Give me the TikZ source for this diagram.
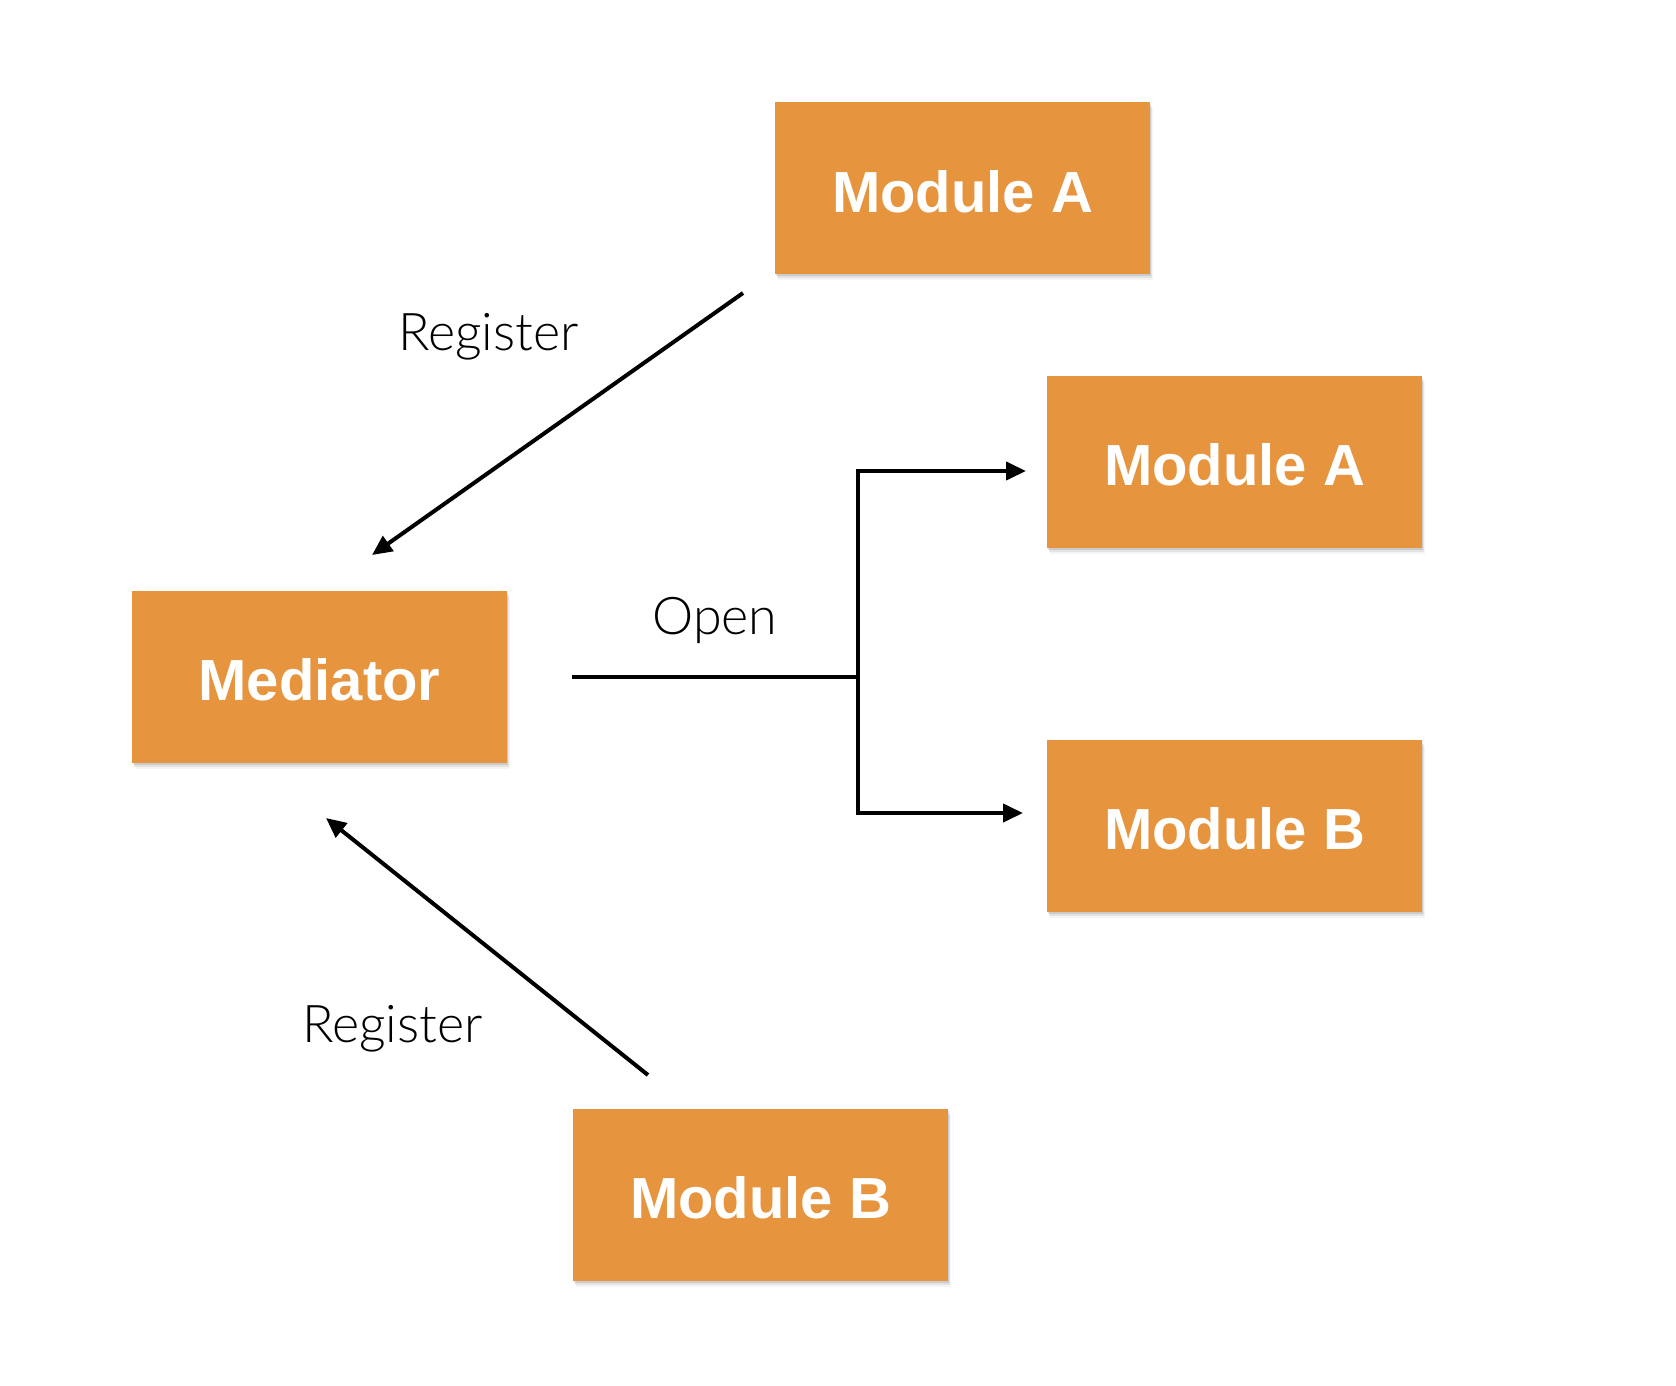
\documentclass[tikz,border=0pt]{standalone}
\usepackage{fontspec}
\setmainfont{Liberation Sans}
\newfontfamily\lightfont{Lato Light}
\usetikzlibrary{arrows.meta,shadows}
\definecolor{boxorange}{HTML}{E6943D}
\tikzset{
  softshadow/.style={
    drop shadow={shadow xshift=1pt, shadow yshift=-2pt, fill=black, opacity=0.10},
    drop shadow={shadow xshift=2pt, shadow yshift=-4pt, fill=black, opacity=0.07},
    drop shadow={shadow xshift=3pt, shadow yshift=-6pt, fill=black, opacity=0.04}},
  modbox/.style={rectangle, fill=boxorange, minimum width=375pt, minimum height=172pt,
    inner sep=0pt, text=white, font=\fontsize{58}{60}\selectfont\bfseries,
    text height=48pt, text depth=0pt, softshadow},
  lbl/.style={font=\lightfont\fontsize{52}{56}\selectfont, text=black, inner sep=0pt},
  conn/.style={line width=4pt, draw=black},
  arr/.style={conn, -{Triangle[length=20pt,width=18pt]}}
}
\begin{document}
\begin{tikzpicture}[x=1pt,y=-1pt]
\useasboundingbox[fill=white] (0,0) rectangle (1676,1386);
% boxes
\node[modbox] (modA1) at (962.5,188) {Module A};
\node[modbox] (modA2) at (1234.5,461.5) {Module A};
\node[modbox] (med) at (319.5,676.5) {Mediator};
\node[modbox] (modB2) at (1234.5,825.5) {Module B};
\node[modbox] (modB1) at (760.5,1194.5) {Module B};
% connector ends
\coordinate (rA1s) at (743,293);
\coordinate (rA1e) at (372,555);
\coordinate (rB1s) at (648,1075);
\coordinate (rB1e) at (326,818);
\coordinate (os) at (572,677);
\coordinate (oj) at (858,677);
\coordinate (ojA) at (858,471);
\coordinate (ojB) at (858,813);
\coordinate (oeA) at (1026,471);
\coordinate (oeB) at (1023,813);
% connectors
\draw[arr] (rA1s) -- (rA1e);
\draw[arr] (rB1s) -- (rB1e);
\draw[conn] (os) -- (oj);
\draw[conn, line cap=rect] (ojA) -- (ojB);
\draw[arr] (ojA) -- (oeA);
\draw[arr] (ojB) -- (oeB);
% labels
\node[lbl, anchor=base west] (lregA) at (398,350) {Register};
\node[lbl, anchor=base west] (lregB) at (302,1042) {Register};
\node[lbl, anchor=base] (lopen) at (715,634) {Open};
\end{tikzpicture}
\end{document}
